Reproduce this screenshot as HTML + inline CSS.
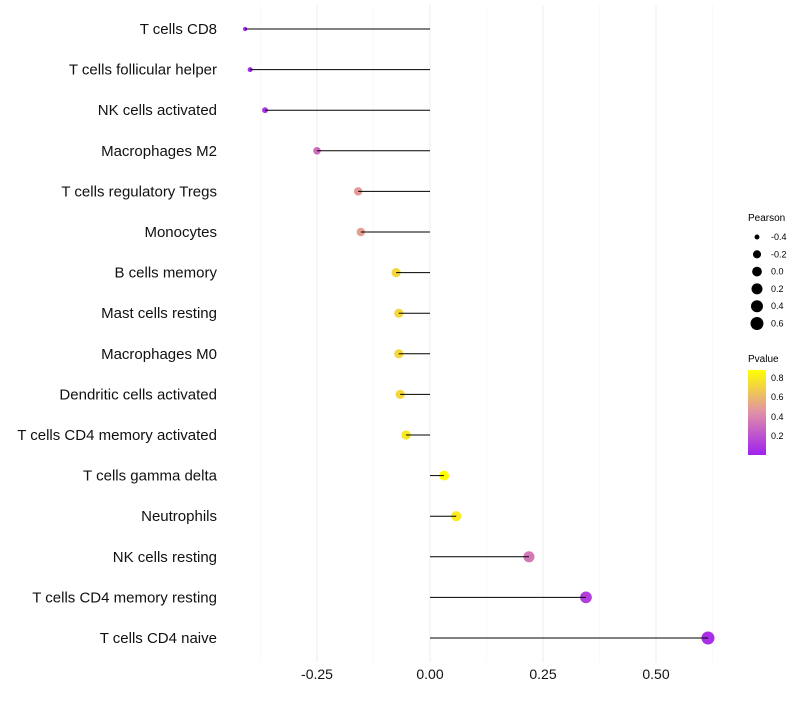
<!DOCTYPE html>
<html><head><meta charset="utf-8"><style>
body{margin:0;background:#fff;font-family:"Liberation Sans",sans-serif}
</style></head><body>
<svg id="c" width="800" height="700" xmlns="http://www.w3.org/2000/svg" font-family="Liberation Sans, sans-serif">
<defs><linearGradient id="pg" x1="0" y1="1" x2="0" y2="0">
<stop offset="0" stop-color="#a020f0"/><stop offset="0.5" stop-color="#e090a8"/><stop offset="1" stop-color="#ffff00"/></linearGradient></defs>
<g id="grid"></g><g id="dots"></g><g id="marks"></g><g id="labels"></g>
<g font-size="9" fill="#000">
<text x="748" y="221" font-size="10">Pearson</text>
<g id="sizeleg"></g>
<text x="748" y="362" font-size="10">Pvalue</text>
<rect x="748" y="370" width="18" height="85" fill="url(#pg)"/>
<text x="771" y="381">0.8</text><text x="771" y="400">0.6</text><text x="771" y="420">0.4</text><text x="771" y="439">0.2</text>
</g>
</svg>
<script>
const categories=["T cells CD8","T cells follicular helper","NK cells activated","Macrophages M2","T cells regulatory  Tregs","Monocytes","B cells memory","Mast cells resting","Macrophages M0","Dendritic cells activated","T cells CD4 memory activated","T cells gamma delta","Neutrophils","NK cells resting","T cells CD4 memory resting","T cells CD4 naive"];
const pearson=[-0.409,-0.398,-0.365,-0.25,-0.159,-0.153,-0.075,-0.069,-0.069,-0.066,-0.053,0.031,0.058,0.219,0.345,0.615];
const pvalue=[0.03,0.04,0.07,0.3,0.48,0.5,0.72,0.72,0.72,0.72,0.79,0.9,0.8,0.35,0.12,0.06];
const xTicks=[-0.25,0,0.25,0.5];
const xTickLabels=["-0.25","0.00","0.25","0.50"];
const sizeLegendVals=[-0.4,-0.2,0,0.2,0.4,0.6];
const NS="http://www.w3.org/2000/svg";
const x=v=>430+v*452;
const y=i=>29+i*40.6;
const r=v=>2+4.5*Math.sqrt(Math.max(0,(v+0.41)/1.02));
function col(p){const t=Math.min(1,Math.max(0,p/0.88));
const a=[160,32,240],m=[224,144,168],b=[255,255,0];let c;
if(t<0.5){const s=t/0.5;c=a.map((v,k)=>v+(m[k]-v)*s);}else{const s=(t-0.5)/0.5;c=m.map((v,k)=>v+(b[k]-v)*s);}
return `rgb(${c.map(Math.round).join(',')})`;}
function mk(t,at,p){const e=document.createElementNS(NS,t);for(const k in at)e.setAttribute(k,at[k]);p.appendChild(e);return e;}
const grid=document.getElementById('grid'),dots=document.getElementById('dots'),marks=document.getElementById('marks'),labels=document.getElementById('labels');
[-0.375,-0.125,0.125,0.375,0.625].forEach(v=>{const l=mk('line',{x1:x(v),x2:x(v),y1:5,y2:662,stroke:'#f5f5f5','stroke-width':0.6},grid);

});
xTicks.forEach((v,i)=>{const l=mk('line',{x1:x(v),x2:x(v),y1:5,y2:662,stroke:'#eeeeee','stroke-width':1},grid);


const t=mk('text',{x:x(v),y:679,'text-anchor':'middle','font-size':14,fill:'#111'},labels);t.textContent=xTickLabels[i];

});
categories.forEach((c,i)=>{const yy=y(i);
const d=mk('circle',{cx:x(pearson[i]),cy:yy,r:r(pearson[i]),fill:col(pvalue[i])},dots);


const l=mk('line',{x1:x(0),x2:x(pearson[i]),y1:yy,y2:yy,stroke:'#000','stroke-width':1},marks);


const t=mk('text',{x:217,y:yy+5,'text-anchor':'end','font-size':15,fill:'#111'},labels);t.textContent=c;
t.setAttribute('xml:space','preserve');

});
const sl=document.getElementById('sizeleg');
sizeLegendVals.forEach((v,i)=>{const yy=237+i*17.3;
const d=mk('circle',{cx:757,cy:yy,r:r(v),fill:'#000'},sl);


const t=mk('text',{x:771,y:yy+3,'font-size':9},sl);t.textContent=v.toFixed(1);

});
</script>
</body></html>
